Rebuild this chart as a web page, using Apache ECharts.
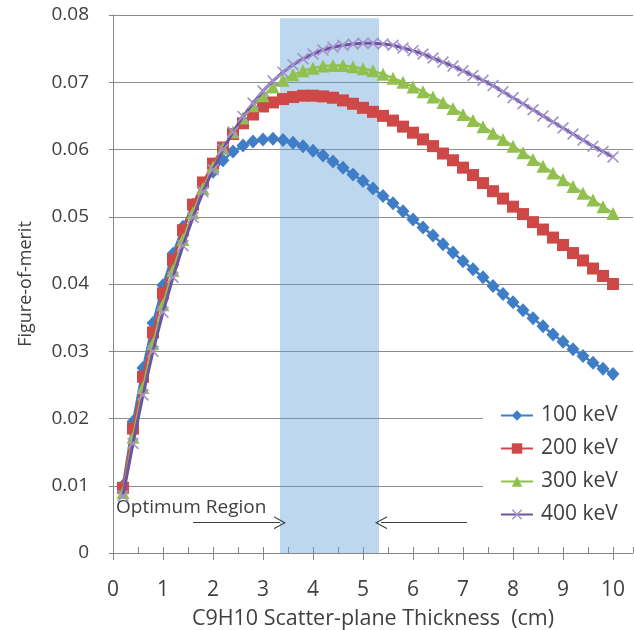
<!DOCTYPE html>
<html>
<head>
<meta charset="utf-8">
<script src="https://cdn.jsdelivr.net/npm/echarts@6/dist/echarts.min.js"></script>
<style>
html,body{margin:0;padding:0;background:#fff;}
#chart{width:634px;height:630px;}
</style>
</head>
<body>
<div id="chart"></div>
<script>
// ---- data ----
var thickness = [0.2,0.4,0.6,0.8,1.0,1.2,1.4,1.6,1.8,2.0,2.2,2.4,2.6,2.8,3.0,3.2,3.4,3.6,3.8,4.0,
  4.2,4.4,4.6,4.8,5.0,5.2,5.4,5.6,5.8,6.0,6.2,6.4,6.6,6.8,7.0,7.2,7.4,7.6,7.8,8.0,
  8.2,8.4,8.6,8.8,9.0,9.2,9.4,9.6,9.8,10.0];

var fom100 = [0.0100,0.0195,0.0275,0.0342,0.0398,0.0445,0.0485,0.0518,0.0545,0.0567,
  0.0584,0.0597,0.0606,0.0612,0.0615,0.0616,0.0614,0.0610,0.0605,0.0598,
  0.0591,0.0582,0.0573,0.0563,0.0553,0.0542,0.0531,0.0520,0.0508,0.0496,
  0.0484,0.0472,0.0459,0.0447,0.0434,0.0422,0.0410,0.0397,0.0385,0.0373,
  0.0361,0.0349,0.0337,0.0325,0.0314,0.0303,0.0293,0.0283,0.0274,0.0266];

var fom200 = [0.0097,0.0185,0.0262,0.0328,0.0386,0.0436,0.0480,0.0518,0.0551,0.0579,
  0.0603,0.0623,0.0639,0.0652,0.0664,0.0670,0.0675,0.0678,0.0680,0.0680,
  0.0679,0.0677,0.0673,0.0668,0.0662,0.0656,0.0650,0.0643,0.0634,0.0625,
  0.0615,0.0605,0.0594,0.0584,0.0573,0.0562,0.0550,0.0538,0.0527,0.0515,
  0.0504,0.0492,0.0481,0.0469,0.0458,0.0446,0.0435,0.0423,0.0412,0.0400];

var fom300 = [0.0090,0.0172,0.0246,0.0311,0.0369,0.0420,0.0466,0.0506,0.0542,0.0574,
  0.0602,0.0626,0.0647,0.0665,0.0680,0.0693,0.0703,0.0711,0.0717,0.0721,
  0.0724,0.0725,0.0725,0.0723,0.0720,0.0717,0.0712,0.0706,0.0700,0.0693,
  0.0686,0.0678,0.0670,0.0661,0.0652,0.0643,0.0634,0.0624,0.0615,0.0605,
  0.0595,0.0585,0.0575,0.0565,0.0555,0.0545,0.0535,0.0525,0.0515,0.0505];

var fom400 = [0.0085,0.0163,0.0235,0.0300,0.0358,0.0410,0.0457,0.0499,0.0537,0.0570,
  0.0600,0.0626,0.0649,0.0669,0.0687,0.0702,0.0715,0.0726,0.0735,0.0742,
  0.0748,0.0752,0.0755,0.0757,0.0758,0.0758,0.0757,0.0755,0.0751,0.0747,
  0.0742,0.0736,0.0730,0.0724,0.0717,0.0710,0.0703,0.0695,0.0686,0.0677,
  0.0668,0.0659,0.0650,0.0641,0.0632,0.0623,0.0614,0.0605,0.0597,0.0589];

var seriesNames = ['100 keV','200 keV','300 keV','400 keV'];
var optimumRegion = [3.34, 5.32];       // thickness range of the shaded band
var bandTop = 0.0795;
var arrowRight = [1.6, 3.34];           // from, to
var arrowLeft = [7.08, 5.36];           // from, to
var arrowLevel = 0.0045;
var annotationText = 'Optimum Region';
var annotationPos = [0.06, 0.0067];

// ---- chart ----
function pairs(ys){ return thickness.map(function(x,i){ return [x, ys[i]]; }); }
var FONT = 'Open Sans';
var TXT = '#404040';
var xSymbol = 'path://M0,1 L1,0 L5,4 L9,0 L10,1 L6,5 L10,9 L9,10 L5,6 L1,10 L0,9 L4,5 Z';
var chevronUp = 'path://M0,10 L5,0 L10,10 L9,10 L5,2 L1,10 Z';

var chart = echarts.init(document.getElementById('chart'), null, {renderer:'canvas'});
chart.setOption({
  animation: false,
  backgroundColor: '#fff',
  textStyle: {fontFamily: FONT, color: TXT},
  grid: {left: 113, right: 1, top: 15, bottom: 77, containLabel: false, outerBoundsMode: 'none'},
  xAxis: [{
    type: 'value', min: 0, max: 10.4, interval: 1,
    name: 'C9H10 Scatter-plane Thickness  (cm)', nameLocation: 'middle', nameGap: 55,
    nameTextStyle: {fontFamily: FONT, fontSize: 21.5, color: TXT},
    axisLine: {show: true, lineStyle: {color: '#868686', width: 1}},
    axisTick: {show: true, inside: false, length: 7, lineStyle: {color: '#868686'}},
    axisLabel: {fontFamily: FONT, fontSize: 21, color: TXT, margin: 27, showMaxLabel: false,
      formatter: function(v){ return (Math.abs(v - Math.round(v)) < 1e-9 && v <= 10) ? String(Math.round(v)) : ''; }},
    splitLine: {show: false}
  },{
    type: 'value', min: 0, max: 10.4, interval: 0.5, position: 'bottom',
    axisLine: {show: false},
    axisTick: {show: true, inside: true, length: 6, lineStyle: {color: '#868686'}},
    axisLabel: {show: false},
    splitLine: {show: false}
  }],
  yAxis: {
    type: 'value', min: 0, max: 0.08, interval: 0.01,
    name: 'Figure-of-merit', nameLocation: 'middle', nameGap: 78, nameRotate: 90,
    nameTextStyle: {fontFamily: FONT, fontSize: 18, color: TXT},
    axisLine: {show: true, lineStyle: {color: '#868686', width: 1}},
    axisTick: {show: true, length: 4, lineStyle: {color: '#868686'}},
    axisLabel: {fontFamily: FONT, fontSize: 19, color: TXT, margin: 24,
      formatter: function(v){ return v === 0 ? '0' : v.toFixed(2); }},
    splitLine: {show: true, lineStyle: {color: '#8c8c8c', width: 1}}
  },
  legend: {
    data: seriesNames,
    orient: 'vertical', left: 483, top: 393,
    backgroundColor: '#ffffff',
    padding: [12, 16, 12, 17],
    itemWidth: 32, itemHeight: 13, itemGap: 12,
    textStyle: {fontFamily: FONT, fontSize: 21, lineHeight: 21, color: TXT, padding: [0,0,0,3]}
  },
  series: [
    {name: seriesNames[0], type: 'line', data: pairs(fom100), symbol: 'diamond', symbolSize: [13,14],
      itemStyle: {color: '#3f7ec6'}, lineStyle: {color: '#3f7ec6', width: 2.5}, z: 2},
    {name: seriesNames[1], type: 'line', data: pairs(fom200), symbol: 'rect', symbolSize: 12,
      itemStyle: {color: '#cd4846'}, lineStyle: {color: '#cd4846', width: 2.5}, z: 3},
    {name: seriesNames[2], type: 'line', data: pairs(fom300), symbol: 'triangle', symbolSize: 13,
      itemStyle: {color: '#92c04f'}, lineStyle: {color: '#92c04f', width: 2.5}, z: 4},
    {name: seriesNames[3], type: 'line', data: pairs(fom400), symbol: xSymbol, symbolSize: 12,
      itemStyle: {color: '#a394cc'}, lineStyle: {color: '#7052a4', width: 3}, z: 5},
    {name: 'band', type: 'line', data: [], z: 6, silent: true,
      markArea: {silent: true, itemStyle: {color: 'rgba(91,155,213,0.4)'},
        data: [[{coord: [optimumRegion[0], 0]}, {coord: [optimumRegion[1], bandTop]}]]}},
    {name: 'annot', type: 'line', data: [], z: 7, silent: true,
      markLine: {silent: true, symbol: ['none', chevronUp], symbolSize: [13, 12],
        lineStyle: {color: '#404040', width: 1, type: 'solid'}, label: {show: false},
        data: [
          [{coord: [arrowRight[0], arrowLevel]}, {coord: [arrowRight[1], arrowLevel]}],
          [{coord: [arrowLeft[0], arrowLevel]}, {coord: [arrowLeft[1], arrowLevel]}]
        ]},
      markPoint: {silent: true, symbol: 'circle', symbolSize: 0,
        label: {show: true, position: 'right', distance: 0, formatter: annotationText,
          fontFamily: FONT, fontSize: 19, color: TXT},
        data: [{coord: annotationPos}]}}
  ]
});
</script>
</body>
</html>
